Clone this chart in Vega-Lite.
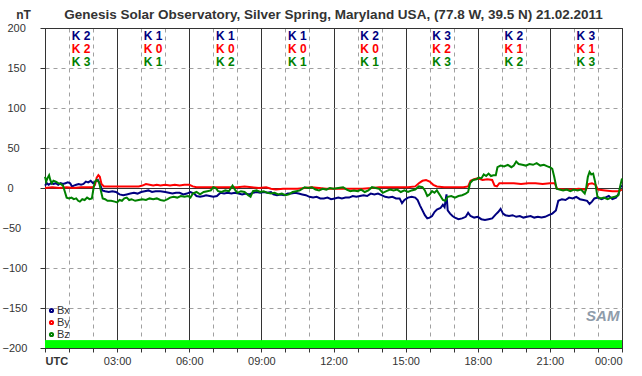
{
  "$schema": "https://vega.github.io/schema/vega-lite/v6.json",
  "width": 577,
  "height": 320,
  "autosize": {"type": "none"},
  "padding": {"left": 45, "top": 28, "right": 20, "bottom": 28},
  "background": "white",
  "title": {"text": "Genesis Solar Observatory, Silver Spring, Maryland USA, (77.8 W, 39.5 N)  21.02.2011", "fontSize": 13.5, "fontWeight": "bold", "color": "#333333", "font": "Liberation Sans", "anchor": "middle", "offset": 9, "dy": 22},
  "config": {"view": {"stroke": "#333333", "strokeWidth": 1}, "font": "Liberation Sans"},
  "datasets": {
    "mag": [
      {"h":0,"s":"Bx","v":3},{"h":0.08,"s":"Bx","v":6},{"h":0.15,"s":"Bx","v":4},{"h":0.25,"s":"Bx","v":6},{"h":0.35,"s":"Bx","v":5},{"h":0.45,"s":"Bx","v":6},{"h":0.55,"s":"Bx","v":4},{"h":0.65,"s":"Bx","v":6},{"h":0.75,"s":"Bx","v":5},{"h":0.85,"s":"Bx","v":6},{"h":0.95,"s":"Bx","v":7},{"h":1.05,"s":"Bx","v":6},{"h":1.12,"s":"Bx","v":2},{"h":1.2,"s":"Bx","v":3},{"h":1.3,"s":"Bx","v":4},{"h":1.4,"s":"Bx","v":5},{"h":1.5,"s":"Bx","v":4},{"h":1.6,"s":"Bx","v":5},{"h":1.7,"s":"Bx","v":8},{"h":1.8,"s":"Bx","v":7},{"h":1.9,"s":"Bx","v":9},{"h":2.0,"s":"Bx","v":6},{"h":2.1,"s":"Bx","v":8},{"h":2.2,"s":"Bx","v":10},{"h":2.3,"s":"Bx","v":4},{"h":2.38,"s":"Bx","v":-3},{"h":2.5,"s":"Bx","v":-4},{"h":2.65,"s":"Bx","v":-5},{"h":2.8,"s":"Bx","v":-4},{"h":2.95,"s":"Bx","v":-5},{"h":3.1,"s":"Bx","v":-8},{"h":3.25,"s":"Bx","v":-9},{"h":3.4,"s":"Bx","v":-8},{"h":3.55,"s":"Bx","v":-7},{"h":3.7,"s":"Bx","v":-6},{"h":3.85,"s":"Bx","v":-7},{"h":4.0,"s":"Bx","v":-5},{"h":4.15,"s":"Bx","v":-4},{"h":4.3,"s":"Bx","v":-3},{"h":4.45,"s":"Bx","v":-5},{"h":4.6,"s":"Bx","v":-4},{"h":4.8,"s":"Bx","v":-4},{"h":5.0,"s":"Bx","v":-5},{"h":5.15,"s":"Bx","v":-6},{"h":5.3,"s":"Bx","v":-7},{"h":5.45,"s":"Bx","v":-6},{"h":5.6,"s":"Bx","v":-6},{"h":5.75,"s":"Bx","v":-8},{"h":5.9,"s":"Bx","v":-7},{"h":6.05,"s":"Bx","v":-5},{"h":6.2,"s":"Bx","v":-7},{"h":6.3,"s":"Bx","v":-10},{"h":6.45,"s":"Bx","v":-11},{"h":6.6,"s":"Bx","v":-10},{"h":6.7,"s":"Bx","v":-9},{"h":6.85,"s":"Bx","v":-10},{"h":7.0,"s":"Bx","v":-11},{"h":7.15,"s":"Bx","v":-10},{"h":7.3,"s":"Bx","v":-6},{"h":7.45,"s":"Bx","v":-7},{"h":7.6,"s":"Bx","v":-6},{"h":7.75,"s":"Bx","v":-7},{"h":7.9,"s":"Bx","v":-6},{"h":8.05,"s":"Bx","v":-7},{"h":8.2,"s":"Bx","v":-8},{"h":8.35,"s":"Bx","v":-7},{"h":8.5,"s":"Bx","v":-8},{"h":8.65,"s":"Bx","v":-6},{"h":8.8,"s":"Bx","v":-5},{"h":8.95,"s":"Bx","v":-6},{"h":9.1,"s":"Bx","v":-5},{"h":9.25,"s":"Bx","v":-6},{"h":9.4,"s":"Bx","v":-5},{"h":9.5,"s":"Bx","v":-8},{"h":9.65,"s":"Bx","v":-9},{"h":9.8,"s":"Bx","v":-8},{"h":9.95,"s":"Bx","v":-9},{"h":10.1,"s":"Bx","v":-7},{"h":10.25,"s":"Bx","v":-7},{"h":10.4,"s":"Bx","v":-6},{"h":10.55,"s":"Bx","v":-7},{"h":10.7,"s":"Bx","v":-8},{"h":10.85,"s":"Bx","v":-9},{"h":11.0,"s":"Bx","v":-11},{"h":11.15,"s":"Bx","v":-12},{"h":11.3,"s":"Bx","v":-11},{"h":11.45,"s":"Bx","v":-13},{"h":11.6,"s":"Bx","v":-13},{"h":11.75,"s":"Bx","v":-12},{"h":11.9,"s":"Bx","v":-14},{"h":12.05,"s":"Bx","v":-13},{"h":12.2,"s":"Bx","v":-12},{"h":12.35,"s":"Bx","v":-13},{"h":12.5,"s":"Bx","v":-12},{"h":12.65,"s":"Bx","v":-12},{"h":12.8,"s":"Bx","v":-10},{"h":12.95,"s":"Bx","v":-11},{"h":13.1,"s":"Bx","v":-10},{"h":13.25,"s":"Bx","v":-9},{"h":13.4,"s":"Bx","v":-10},{"h":13.55,"s":"Bx","v":-7},{"h":13.7,"s":"Bx","v":-8},{"h":13.85,"s":"Bx","v":-7},{"h":14.0,"s":"Bx","v":-9},{"h":14.15,"s":"Bx","v":-11},{"h":14.3,"s":"Bx","v":-12},{"h":14.45,"s":"Bx","v":-11},{"h":14.6,"s":"Bx","v":-13},{"h":14.75,"s":"Bx","v":-13},{"h":14.85,"s":"Bx","v":-19},{"h":14.95,"s":"Bx","v":-15},{"h":15.1,"s":"Bx","v":-12},{"h":15.25,"s":"Bx","v":-11},{"h":15.4,"s":"Bx","v":-12},{"h":15.5,"s":"Bx","v":-15},{"h":15.6,"s":"Bx","v":-22},{"h":15.7,"s":"Bx","v":-28},{"h":15.8,"s":"Bx","v":-34},{"h":15.9,"s":"Bx","v":-38},{"h":16.0,"s":"Bx","v":-37},{"h":16.1,"s":"Bx","v":-35},{"h":16.2,"s":"Bx","v":-30},{"h":16.3,"s":"Bx","v":-27},{"h":16.45,"s":"Bx","v":-25},{"h":16.55,"s":"Bx","v":-21},{"h":16.62,"s":"Bx","v":-24},{"h":16.7,"s":"Bx","v":-8},{"h":16.75,"s":"Bx","v":-28},{"h":16.85,"s":"Bx","v":-32},{"h":16.95,"s":"Bx","v":-35},{"h":17.05,"s":"Bx","v":-37},{"h":17.2,"s":"Bx","v":-39},{"h":17.35,"s":"Bx","v":-38},{"h":17.5,"s":"Bx","v":-36},{"h":17.6,"s":"Bx","v":-31},{"h":17.7,"s":"Bx","v":-35},{"h":17.85,"s":"Bx","v":-37},{"h":18.0,"s":"Bx","v":-36},{"h":18.15,"s":"Bx","v":-39},{"h":18.3,"s":"Bx","v":-40},{"h":18.45,"s":"Bx","v":-39},{"h":18.6,"s":"Bx","v":-38},{"h":18.75,"s":"Bx","v":-33},{"h":18.85,"s":"Bx","v":-30},{"h":18.95,"s":"Bx","v":-26},{"h":19.05,"s":"Bx","v":-32},{"h":19.15,"s":"Bx","v":-34},{"h":19.3,"s":"Bx","v":-35},{"h":19.45,"s":"Bx","v":-34},{"h":19.6,"s":"Bx","v":-36},{"h":19.75,"s":"Bx","v":-35},{"h":19.9,"s":"Bx","v":-37},{"h":20.05,"s":"Bx","v":-36},{"h":20.2,"s":"Bx","v":-35},{"h":20.35,"s":"Bx","v":-37},{"h":20.5,"s":"Bx","v":-36},{"h":20.65,"s":"Bx","v":-37},{"h":20.8,"s":"Bx","v":-36},{"h":20.95,"s":"Bx","v":-34},{"h":21.1,"s":"Bx","v":-32},{"h":21.25,"s":"Bx","v":-28},{"h":21.35,"s":"Bx","v":-16},{"h":21.5,"s":"Bx","v":-14},{"h":21.65,"s":"Bx","v":-15},{"h":21.8,"s":"Bx","v":-12},{"h":21.95,"s":"Bx","v":-13},{"h":22.1,"s":"Bx","v":-11},{"h":22.25,"s":"Bx","v":-14},{"h":22.4,"s":"Bx","v":-15},{"h":22.55,"s":"Bx","v":-16},{"h":22.65,"s":"Bx","v":-20},{"h":22.75,"s":"Bx","v":-17},{"h":22.85,"s":"Bx","v":-13},{"h":23.0,"s":"Bx","v":-12},{"h":23.15,"s":"Bx","v":-14},{"h":23.3,"s":"Bx","v":-12},{"h":23.45,"s":"Bx","v":-10},{"h":23.6,"s":"Bx","v":-14},{"h":23.75,"s":"Bx","v":-12},{"h":23.85,"s":"Bx","v":-8},{"h":23.95,"s":"Bx","v":2},{"h":24.0,"s":"Bx","v":3},
      {"h":0,"s":"By","v":0},{"h":0.3,"s":"By","v":1},{"h":0.6,"s":"By","v":0},{"h":0.9,"s":"By","v":1},{"h":1.2,"s":"By","v":0},{"h":1.5,"s":"By","v":1},{"h":1.8,"s":"By","v":1},{"h":2.0,"s":"By","v":1},{"h":2.08,"s":"By","v":4},{"h":2.15,"s":"By","v":13},{"h":2.22,"s":"By","v":16},{"h":2.28,"s":"By","v":14},{"h":2.35,"s":"By","v":5},{"h":2.45,"s":"By","v":2},{"h":2.7,"s":"By","v":2},{"h":3.0,"s":"By","v":2},{"h":3.3,"s":"By","v":2},{"h":3.6,"s":"By","v":2},{"h":3.9,"s":"By","v":2},{"h":4.05,"s":"By","v":3},{"h":4.2,"s":"By","v":5},{"h":4.35,"s":"By","v":4},{"h":4.5,"s":"By","v":3},{"h":4.65,"s":"By","v":4},{"h":4.8,"s":"By","v":3},{"h":5.0,"s":"By","v":4},{"h":5.2,"s":"By","v":3},{"h":5.4,"s":"By","v":4},{"h":5.6,"s":"By","v":3},{"h":5.8,"s":"By","v":4},{"h":6.0,"s":"By","v":4},{"h":6.15,"s":"By","v":2},{"h":6.3,"s":"By","v":1},{"h":6.6,"s":"By","v":1},{"h":7.0,"s":"By","v":1},{"h":7.5,"s":"By","v":1},{"h":8.0,"s":"By","v":1},{"h":8.3,"s":"By","v":2},{"h":8.6,"s":"By","v":1},{"h":8.9,"s":"By","v":0},{"h":9.2,"s":"By","v":1},{"h":9.4,"s":"By","v":-1},{"h":9.6,"s":"By","v":-2},{"h":9.9,"s":"By","v":-1},{"h":10.2,"s":"By","v":-1},{"h":10.5,"s":"By","v":-1},{"h":10.8,"s":"By","v":0},{"h":11.1,"s":"By","v":1},{"h":11.4,"s":"By","v":0},{"h":11.7,"s":"By","v":-1},{"h":12.0,"s":"By","v":-1},{"h":12.4,"s":"By","v":-1},{"h":12.8,"s":"By","v":-1},{"h":13.2,"s":"By","v":-1},{"h":13.6,"s":"By","v":0},{"h":13.9,"s":"By","v":1},{"h":14.3,"s":"By","v":1},{"h":14.7,"s":"By","v":1},{"h":15.1,"s":"By","v":1},{"h":15.4,"s":"By","v":2},{"h":15.55,"s":"By","v":6},{"h":15.7,"s":"By","v":9},{"h":15.85,"s":"By","v":10},{"h":16.0,"s":"By","v":8},{"h":16.15,"s":"By","v":4},{"h":16.3,"s":"By","v":2},{"h":16.6,"s":"By","v":1},{"h":17.0,"s":"By","v":1},{"h":17.4,"s":"By","v":1},{"h":17.6,"s":"By","v":2},{"h":17.7,"s":"By","v":9},{"h":17.85,"s":"By","v":11},{"h":18.0,"s":"By","v":12},{"h":18.2,"s":"By","v":10},{"h":18.4,"s":"By","v":11},{"h":18.6,"s":"By","v":10},{"h":18.7,"s":"By","v":3},{"h":18.8,"s":"By","v":2},{"h":18.9,"s":"By","v":6},{"h":19.2,"s":"By","v":6},{"h":19.5,"s":"By","v":6},{"h":19.8,"s":"By","v":5},{"h":20.1,"s":"By","v":6},{"h":20.4,"s":"By","v":6},{"h":20.7,"s":"By","v":5},{"h":21.0,"s":"By","v":6},{"h":21.2,"s":"By","v":6},{"h":21.3,"s":"By","v":-1},{"h":21.6,"s":"By","v":-2},{"h":21.9,"s":"By","v":-2},{"h":22.2,"s":"By","v":-1},{"h":22.5,"s":"By","v":-2},{"h":22.6,"s":"By","v":5},{"h":22.75,"s":"By","v":6},{"h":22.9,"s":"By","v":4},{"h":23.0,"s":"By","v":-2},{"h":23.3,"s":"By","v":-3},{"h":23.6,"s":"By","v":-4},{"h":23.85,"s":"By","v":-4},{"h":24.0,"s":"By","v":-2},
      {"h":0,"s":"Bz","v":14},{"h":0.05,"s":"Bz","v":8},{"h":0.1,"s":"Bz","v":12},{"h":0.17,"s":"Bz","v":16},{"h":0.22,"s":"Bz","v":10},{"h":0.28,"s":"Bz","v":6},{"h":0.35,"s":"Bz","v":9},{"h":0.45,"s":"Bz","v":8},{"h":0.55,"s":"Bz","v":6},{"h":0.65,"s":"Bz","v":5},{"h":0.75,"s":"Bz","v":3},{"h":0.82,"s":"Bz","v":-4},{"h":0.9,"s":"Bz","v":-12},{"h":1.0,"s":"Bz","v":-13},{"h":1.1,"s":"Bz","v":-12},{"h":1.2,"s":"Bz","v":-14},{"h":1.3,"s":"Bz","v":-13},{"h":1.38,"s":"Bz","v":-16},{"h":1.45,"s":"Bz","v":-17},{"h":1.55,"s":"Bz","v":-14},{"h":1.65,"s":"Bz","v":-15},{"h":1.75,"s":"Bz","v":-12},{"h":1.85,"s":"Bz","v":-14},{"h":1.95,"s":"Bz","v":-13},{"h":2.02,"s":"Bz","v":0},{"h":2.08,"s":"Bz","v":8},{"h":2.15,"s":"Bz","v":10},{"h":2.25,"s":"Bz","v":7},{"h":2.32,"s":"Bz","v":-3},{"h":2.4,"s":"Bz","v":-13},{"h":2.5,"s":"Bz","v":-14},{"h":2.6,"s":"Bz","v":-16},{"h":2.75,"s":"Bz","v":-16},{"h":2.9,"s":"Bz","v":-17},{"h":3.0,"s":"Bz","v":-18},{"h":3.1,"s":"Bz","v":-15},{"h":3.2,"s":"Bz","v":-16},{"h":3.3,"s":"Bz","v":-13},{"h":3.4,"s":"Bz","v":-12},{"h":3.5,"s":"Bz","v":-15},{"h":3.6,"s":"Bz","v":-14},{"h":3.75,"s":"Bz","v":-16},{"h":3.9,"s":"Bz","v":-15},{"h":4.05,"s":"Bz","v":-14},{"h":4.2,"s":"Bz","v":-15},{"h":4.35,"s":"Bz","v":-13},{"h":4.5,"s":"Bz","v":-14},{"h":4.65,"s":"Bz","v":-13},{"h":4.8,"s":"Bz","v":-15},{"h":4.95,"s":"Bz","v":-16},{"h":5.1,"s":"Bz","v":-14},{"h":5.2,"s":"Bz","v":-12},{"h":5.35,"s":"Bz","v":-11},{"h":5.5,"s":"Bz","v":-12},{"h":5.65,"s":"Bz","v":-10},{"h":5.8,"s":"Bz","v":-11},{"h":5.95,"s":"Bz","v":-10},{"h":6.05,"s":"Bz","v":-12},{"h":6.15,"s":"Bz","v":-7},{"h":6.3,"s":"Bz","v":-5},{"h":6.45,"s":"Bz","v":-8},{"h":6.6,"s":"Bz","v":-5},{"h":6.75,"s":"Bz","v":-4},{"h":6.9,"s":"Bz","v":-3},{"h":7.0,"s":"Bz","v":1},{"h":7.1,"s":"Bz","v":0},{"h":7.2,"s":"Bz","v":-4},{"h":7.35,"s":"Bz","v":-5},{"h":7.5,"s":"Bz","v":-3},{"h":7.65,"s":"Bz","v":-4},{"h":7.8,"s":"Bz","v":3},{"h":7.9,"s":"Bz","v":-2},{"h":8.0,"s":"Bz","v":-6},{"h":8.15,"s":"Bz","v":-4},{"h":8.3,"s":"Bz","v":-5},{"h":8.45,"s":"Bz","v":-9},{"h":8.55,"s":"Bz","v":-11},{"h":8.65,"s":"Bz","v":-4},{"h":8.8,"s":"Bz","v":-3},{"h":8.95,"s":"Bz","v":-5},{"h":9.1,"s":"Bz","v":-4},{"h":9.25,"s":"Bz","v":-6},{"h":9.4,"s":"Bz","v":-7},{"h":9.55,"s":"Bz","v":-6},{"h":9.7,"s":"Bz","v":-8},{"h":9.85,"s":"Bz","v":-7},{"h":10.0,"s":"Bz","v":-9},{"h":10.15,"s":"Bz","v":-8},{"h":10.3,"s":"Bz","v":-5},{"h":10.45,"s":"Bz","v":-4},{"h":10.6,"s":"Bz","v":-3},{"h":10.8,"s":"Bz","v":1},{"h":10.95,"s":"Bz","v":0},{"h":11.1,"s":"Bz","v":1},{"h":11.25,"s":"Bz","v":-2},{"h":11.4,"s":"Bz","v":-3},{"h":11.55,"s":"Bz","v":-1},{"h":11.7,"s":"Bz","v":-2},{"h":11.85,"s":"Bz","v":0},{"h":12.0,"s":"Bz","v":-1},{"h":12.2,"s":"Bz","v":0},{"h":12.4,"s":"Bz","v":1},{"h":12.55,"s":"Bz","v":-2},{"h":12.7,"s":"Bz","v":-4},{"h":12.85,"s":"Bz","v":-3},{"h":13.0,"s":"Bz","v":-4},{"h":13.15,"s":"Bz","v":-2},{"h":13.3,"s":"Bz","v":-5},{"h":13.45,"s":"Bz","v":-3},{"h":13.6,"s":"Bz","v":1},{"h":13.75,"s":"Bz","v":0},{"h":13.9,"s":"Bz","v":-1},{"h":14.05,"s":"Bz","v":-6},{"h":14.2,"s":"Bz","v":-4},{"h":14.35,"s":"Bz","v":-2},{"h":14.5,"s":"Bz","v":-3},{"h":14.65,"s":"Bz","v":-2},{"h":14.8,"s":"Bz","v":-5},{"h":14.95,"s":"Bz","v":-3},{"h":15.1,"s":"Bz","v":-5},{"h":15.25,"s":"Bz","v":-3},{"h":15.4,"s":"Bz","v":-2},{"h":15.55,"s":"Bz","v":2},{"h":15.7,"s":"Bz","v":1},{"h":15.8,"s":"Bz","v":-3},{"h":15.9,"s":"Bz","v":-10},{"h":16.0,"s":"Bz","v":-8},{"h":16.1,"s":"Bz","v":-4},{"h":16.2,"s":"Bz","v":-6},{"h":16.3,"s":"Bz","v":-3},{"h":16.45,"s":"Bz","v":-10},{"h":16.55,"s":"Bz","v":-15},{"h":16.65,"s":"Bz","v":-16},{"h":16.75,"s":"Bz","v":-11},{"h":16.9,"s":"Bz","v":-10},{"h":17.05,"s":"Bz","v":-12},{"h":17.2,"s":"Bz","v":-10},{"h":17.35,"s":"Bz","v":-9},{"h":17.5,"s":"Bz","v":-7},{"h":17.6,"s":"Bz","v":-5},{"h":17.68,"s":"Bz","v":6},{"h":17.8,"s":"Bz","v":10},{"h":17.95,"s":"Bz","v":11},{"h":18.05,"s":"Bz","v":13},{"h":18.15,"s":"Bz","v":12},{"h":18.25,"s":"Bz","v":17},{"h":18.35,"s":"Bz","v":15},{"h":18.45,"s":"Bz","v":18},{"h":18.55,"s":"Bz","v":15},{"h":18.65,"s":"Bz","v":16},{"h":18.75,"s":"Bz","v":16},{"h":18.82,"s":"Bz","v":26},{"h":18.95,"s":"Bz","v":28},{"h":19.1,"s":"Bz","v":27},{"h":19.25,"s":"Bz","v":29},{"h":19.4,"s":"Bz","v":26},{"h":19.5,"s":"Bz","v":28},{"h":19.6,"s":"Bz","v":33},{"h":19.7,"s":"Bz","v":30},{"h":19.85,"s":"Bz","v":29},{"h":20.0,"s":"Bz","v":28},{"h":20.15,"s":"Bz","v":30},{"h":20.3,"s":"Bz","v":29},{"h":20.45,"s":"Bz","v":31},{"h":20.6,"s":"Bz","v":28},{"h":20.75,"s":"Bz","v":29},{"h":20.9,"s":"Bz","v":27},{"h":21.0,"s":"Bz","v":26},{"h":21.1,"s":"Bz","v":24},{"h":21.18,"s":"Bz","v":14},{"h":21.28,"s":"Bz","v":-1},{"h":21.4,"s":"Bz","v":-2},{"h":21.55,"s":"Bz","v":-3},{"h":21.7,"s":"Bz","v":-2},{"h":21.85,"s":"Bz","v":-4},{"h":22.0,"s":"Bz","v":-2},{"h":22.15,"s":"Bz","v":-3},{"h":22.3,"s":"Bz","v":-2},{"h":22.45,"s":"Bz","v":-7},{"h":22.5,"s":"Bz","v":-2},{"h":22.58,"s":"Bz","v":14},{"h":22.65,"s":"Bz","v":20},{"h":22.72,"s":"Bz","v":17},{"h":22.8,"s":"Bz","v":18},{"h":22.88,"s":"Bz","v":8},{"h":22.98,"s":"Bz","v":-11},{"h":23.1,"s":"Bz","v":-13},{"h":23.25,"s":"Bz","v":-12},{"h":23.4,"s":"Bz","v":-14},{"h":23.55,"s":"Bz","v":-12},{"h":23.7,"s":"Bz","v":-11},{"h":23.85,"s":"Bz","v":-9},{"h":23.93,"s":"Bz","v":3},{"h":24.0,"s":"Bz","v":12}
    ],
    "kidx": [
      {"h":1.5,"x":"K 2","y":"K 2","z":"K 3"},
      {"h":4.5,"x":"K 1","y":"K 0","z":"K 1"},
      {"h":7.5,"x":"K 1","y":"K 0","z":"K 2"},
      {"h":10.5,"x":"K 1","y":"K 0","z":"K 1"},
      {"h":13.5,"x":"K 2","y":"K 0","z":"K 1"},
      {"h":16.5,"x":"K 3","y":"K 2","z":"K 3"},
      {"h":19.5,"x":"K 2","y":"K 1","z":"K 2"},
      {"h":22.5,"x":"K 3","y":"K 1","z":"K 3"}
    ],
    "logo": [{"h": 23.2, "v": -160, "t": "SAM"}]
  },
  "layer": [
    {
      "data": {"name": "mag"},
      "mark": {"type": "line", "strokeWidth": 2},
      "encoding": {
        "x": {"field": "h", "type": "quantitative",
          "scale": {"domain": [0, 24], "nice": false, "zero": false},
          "axis": {"values": [0,1,2,3,4,5,6,7,8,9,10,11,12,13,14,15,16,17,18,19,20,21,22,23,24], "title": null, "labelExpr": "datum.value == 0 ? 'UTC' : (datum.value % 3 == 0 ? (datum.value == 24 ? '00:00' : (datum.value < 10 ? '0' : '') + datum.value + ':00') : '')", "labelAlign": {"condition": [{"test": "datum.value == 0", "value": "left"}, {"test": "datum.value == 24", "value": "right"}], "value": "center"}, "labelFontWeight": {"condition": {"test": "datum.value == 0", "value": "bold"}, "value": "normal"}, "labelOverlap": false, "labelFlush": false, "labelFontSize": 11, "labelColor": "#333333", "labelPadding": 3, "tickSize": 4, "tickColor": "#333333", "domainColor": "#333333", "grid": true, "gridColor": {"condition": {"test": "datum.value % 3 == 0", "value": "#333333"}, "value": "#a0a0a0"}, "gridDash": {"condition": {"test": "datum.value % 3 == 0", "value": []}, "value": [4, 4]}, "gridWidth": 1}
        },
        "y": {"field": "v", "type": "quantitative",
          "scale": {"domain": [-200, 200], "nice": false, "zero": false},
          "axis": {"values": [-200,-150,-100,-50,0,50,100,150,200], "title": "nT", "titleAngle": 0, "titleX": -22, "titleY": -14, "titleAlign": "center", "titleBaseline": "middle", "titleFontSize": 12, "titleFontWeight": "bold", "titleColor": "#333333", "labelAlign": "left", "labelBaseline": "middle", "labelOverlap": false, "labelPadding": {"condition": {"test": "datum.value < 0", "value": 38}, "value": 33}, "labelFontSize": 11, "labelColor": "#333333", "tickSize": 5, "tickColor": "#333333", "domainColor": "#333333", "grid": true, "gridColor": {"condition": {"test": "datum.value == 0 || datum.value == 200 || datum.value == -200", "value": "#333333"}, "value": "#a0a0a0"}, "gridDash": {"condition": {"test": "datum.value == 0 || datum.value == 200 || datum.value == -200", "value": []}, "value": [4, 4]}}
        },
        "color": {"field": "s", "type": "nominal",
          "scale": {"domain": ["Bx", "By", "Bz"], "range": ["#000080", "#ff0000", "#008000"]},
          "legend": {"title": null, "orient": "none", "legendX": 1, "legendY": 277, "symbolType": "circle", "symbolSize": 10, "symbolStrokeWidth": 2, "labelFontSize": 11, "labelColor": "#333333", "labelOffset": 0, "rowPadding": -1, "padding": 0}
        }
      }
    },
    {
      "data": {"name": "kidx"},
      "mark": {"type": "rect", "color": "#00ff00"},
      "encoding": {
        "x": {"datum": 0, "type": "quantitative", "axis": {"values": [0,1,2,3,4,5,6,7,8,9,10,11,12,13,14,15,16,17,18,19,20,21,22,23,24], "title": null, "labelExpr": "datum.value == 0 ? 'UTC' : (datum.value % 3 == 0 ? (datum.value == 24 ? '00:00' : (datum.value < 10 ? '0' : '') + datum.value + ':00') : '')", "labelAlign": {"condition": [{"test": "datum.value == 0", "value": "left"}, {"test": "datum.value == 24", "value": "right"}], "value": "center"}, "labelFontWeight": {"condition": {"test": "datum.value == 0", "value": "bold"}, "value": "normal"}, "labelOverlap": false, "labelFlush": false, "labelFontSize": 11, "labelColor": "#333333", "labelPadding": 3, "tickSize": 4, "tickColor": "#333333", "domainColor": "#333333", "grid": true, "gridColor": {"condition": {"test": "datum.value % 3 == 0", "value": "#333333"}, "value": "#a0a0a0"}, "gridDash": {"condition": {"test": "datum.value % 3 == 0", "value": []}, "value": [4, 4]}, "gridWidth": 1}},
        "x2": {"datum": 24},
        "y": {"datum": -200, "type": "quantitative", "axis": {"values": [-200,-150,-100,-50,0,50,100,150,200], "title": "nT", "titleAngle": 0, "titleX": -22, "titleY": -14, "titleAlign": "center", "titleBaseline": "middle", "titleFontSize": 12, "titleFontWeight": "bold", "titleColor": "#333333", "labelAlign": "left", "labelBaseline": "middle", "labelOverlap": false, "labelPadding": {"condition": {"test": "datum.value < 0", "value": 38}, "value": 33}, "labelFontSize": 11, "labelColor": "#333333", "tickSize": 5, "tickColor": "#333333", "domainColor": "#333333", "grid": true, "gridColor": {"condition": {"test": "datum.value == 0 || datum.value == 200 || datum.value == -200", "value": "#333333"}, "value": "#a0a0a0"}, "gridDash": {"condition": {"test": "datum.value == 0 || datum.value == 200 || datum.value == -200", "value": []}, "value": [4, 4]}}},
        "y2": {"datum": -191}
      }
    },
    {
      "data": {"name": "kidx"},
      "mark": {"type": "text", "fontSize": 12, "fontWeight": "bold", "color": "#000080", "baseline": "middle"},
      "encoding": {
        "x": {"field": "h", "type": "quantitative", "axis": {"values": [0,1,2,3,4,5,6,7,8,9,10,11,12,13,14,15,16,17,18,19,20,21,22,23,24], "title": null, "labelExpr": "datum.value == 0 ? 'UTC' : (datum.value % 3 == 0 ? (datum.value == 24 ? '00:00' : (datum.value < 10 ? '0' : '') + datum.value + ':00') : '')", "labelAlign": {"condition": [{"test": "datum.value == 0", "value": "left"}, {"test": "datum.value == 24", "value": "right"}], "value": "center"}, "labelFontWeight": {"condition": {"test": "datum.value == 0", "value": "bold"}, "value": "normal"}, "labelOverlap": false, "labelFlush": false, "labelFontSize": 11, "labelColor": "#333333", "labelPadding": 3, "tickSize": 4, "tickColor": "#333333", "domainColor": "#333333", "grid": true, "gridColor": {"condition": {"test": "datum.value % 3 == 0", "value": "#333333"}, "value": "#a0a0a0"}, "gridDash": {"condition": {"test": "datum.value % 3 == 0", "value": []}, "value": [4, 4]}, "gridWidth": 1}},
        "y": {"datum": 190, "type": "quantitative", "axis": {"values": [-200,-150,-100,-50,0,50,100,150,200], "title": "nT", "titleAngle": 0, "titleX": -22, "titleY": -14, "titleAlign": "center", "titleBaseline": "middle", "titleFontSize": 12, "titleFontWeight": "bold", "titleColor": "#333333", "labelAlign": "left", "labelBaseline": "middle", "labelOverlap": false, "labelPadding": {"condition": {"test": "datum.value < 0", "value": 38}, "value": 33}, "labelFontSize": 11, "labelColor": "#333333", "tickSize": 5, "tickColor": "#333333", "domainColor": "#333333", "grid": true, "gridColor": {"condition": {"test": "datum.value == 0 || datum.value == 200 || datum.value == -200", "value": "#333333"}, "value": "#a0a0a0"}, "gridDash": {"condition": {"test": "datum.value == 0 || datum.value == 200 || datum.value == -200", "value": []}, "value": [4, 4]}}},
        "text": {"field": "x"}
      }
    },
    {
      "data": {"name": "kidx"},
      "mark": {"type": "text", "fontSize": 12, "fontWeight": "bold", "color": "#ff0000", "baseline": "middle"},
      "encoding": {
        "x": {"field": "h", "type": "quantitative", "axis": {"values": [0,1,2,3,4,5,6,7,8,9,10,11,12,13,14,15,16,17,18,19,20,21,22,23,24], "title": null, "labelExpr": "datum.value == 0 ? 'UTC' : (datum.value % 3 == 0 ? (datum.value == 24 ? '00:00' : (datum.value < 10 ? '0' : '') + datum.value + ':00') : '')", "labelAlign": {"condition": [{"test": "datum.value == 0", "value": "left"}, {"test": "datum.value == 24", "value": "right"}], "value": "center"}, "labelFontWeight": {"condition": {"test": "datum.value == 0", "value": "bold"}, "value": "normal"}, "labelOverlap": false, "labelFlush": false, "labelFontSize": 11, "labelColor": "#333333", "labelPadding": 3, "tickSize": 4, "tickColor": "#333333", "domainColor": "#333333", "grid": true, "gridColor": {"condition": {"test": "datum.value % 3 == 0", "value": "#333333"}, "value": "#a0a0a0"}, "gridDash": {"condition": {"test": "datum.value % 3 == 0", "value": []}, "value": [4, 4]}, "gridWidth": 1}},
        "y": {"datum": 174, "type": "quantitative", "axis": {"values": [-200,-150,-100,-50,0,50,100,150,200], "title": "nT", "titleAngle": 0, "titleX": -22, "titleY": -14, "titleAlign": "center", "titleBaseline": "middle", "titleFontSize": 12, "titleFontWeight": "bold", "titleColor": "#333333", "labelAlign": "left", "labelBaseline": "middle", "labelOverlap": false, "labelPadding": {"condition": {"test": "datum.value < 0", "value": 38}, "value": 33}, "labelFontSize": 11, "labelColor": "#333333", "tickSize": 5, "tickColor": "#333333", "domainColor": "#333333", "grid": true, "gridColor": {"condition": {"test": "datum.value == 0 || datum.value == 200 || datum.value == -200", "value": "#333333"}, "value": "#a0a0a0"}, "gridDash": {"condition": {"test": "datum.value == 0 || datum.value == 200 || datum.value == -200", "value": []}, "value": [4, 4]}}},
        "text": {"field": "y"}
      }
    },
    {
      "data": {"name": "kidx"},
      "mark": {"type": "text", "fontSize": 12, "fontWeight": "bold", "color": "#008000", "baseline": "middle"},
      "encoding": {
        "x": {"field": "h", "type": "quantitative", "axis": {"values": [0,1,2,3,4,5,6,7,8,9,10,11,12,13,14,15,16,17,18,19,20,21,22,23,24], "title": null, "labelExpr": "datum.value == 0 ? 'UTC' : (datum.value % 3 == 0 ? (datum.value == 24 ? '00:00' : (datum.value < 10 ? '0' : '') + datum.value + ':00') : '')", "labelAlign": {"condition": [{"test": "datum.value == 0", "value": "left"}, {"test": "datum.value == 24", "value": "right"}], "value": "center"}, "labelFontWeight": {"condition": {"test": "datum.value == 0", "value": "bold"}, "value": "normal"}, "labelOverlap": false, "labelFlush": false, "labelFontSize": 11, "labelColor": "#333333", "labelPadding": 3, "tickSize": 4, "tickColor": "#333333", "domainColor": "#333333", "grid": true, "gridColor": {"condition": {"test": "datum.value % 3 == 0", "value": "#333333"}, "value": "#a0a0a0"}, "gridDash": {"condition": {"test": "datum.value % 3 == 0", "value": []}, "value": [4, 4]}, "gridWidth": 1}},
        "y": {"datum": 158, "type": "quantitative", "axis": {"values": [-200,-150,-100,-50,0,50,100,150,200], "title": "nT", "titleAngle": 0, "titleX": -22, "titleY": -14, "titleAlign": "center", "titleBaseline": "middle", "titleFontSize": 12, "titleFontWeight": "bold", "titleColor": "#333333", "labelAlign": "left", "labelBaseline": "middle", "labelOverlap": false, "labelPadding": {"condition": {"test": "datum.value < 0", "value": 38}, "value": 33}, "labelFontSize": 11, "labelColor": "#333333", "tickSize": 5, "tickColor": "#333333", "domainColor": "#333333", "grid": true, "gridColor": {"condition": {"test": "datum.value == 0 || datum.value == 200 || datum.value == -200", "value": "#333333"}, "value": "#a0a0a0"}, "gridDash": {"condition": {"test": "datum.value == 0 || datum.value == 200 || datum.value == -200", "value": []}, "value": [4, 4]}}},
        "text": {"field": "z"}
      }
    },
    {
      "data": {"name": "logo"},
      "mark": {"type": "text", "fontSize": 15, "fontStyle": "italic", "fontWeight": "bold", "color": "#8f9caa", "baseline": "middle", "align": "center"},
      "encoding": {
        "x": {"field": "h", "type": "quantitative", "axis": {"values": [0,1,2,3,4,5,6,7,8,9,10,11,12,13,14,15,16,17,18,19,20,21,22,23,24], "title": null, "labelExpr": "datum.value == 0 ? 'UTC' : (datum.value % 3 == 0 ? (datum.value == 24 ? '00:00' : (datum.value < 10 ? '0' : '') + datum.value + ':00') : '')", "labelAlign": {"condition": [{"test": "datum.value == 0", "value": "left"}, {"test": "datum.value == 24", "value": "right"}], "value": "center"}, "labelFontWeight": {"condition": {"test": "datum.value == 0", "value": "bold"}, "value": "normal"}, "labelOverlap": false, "labelFlush": false, "labelFontSize": 11, "labelColor": "#333333", "labelPadding": 3, "tickSize": 4, "tickColor": "#333333", "domainColor": "#333333", "grid": true, "gridColor": {"condition": {"test": "datum.value % 3 == 0", "value": "#333333"}, "value": "#a0a0a0"}, "gridDash": {"condition": {"test": "datum.value % 3 == 0", "value": []}, "value": [4, 4]}, "gridWidth": 1}},
        "y": {"field": "v", "type": "quantitative", "axis": {"values": [-200,-150,-100,-50,0,50,100,150,200], "title": "nT", "titleAngle": 0, "titleX": -22, "titleY": -14, "titleAlign": "center", "titleBaseline": "middle", "titleFontSize": 12, "titleFontWeight": "bold", "titleColor": "#333333", "labelAlign": "left", "labelBaseline": "middle", "labelOverlap": false, "labelPadding": {"condition": {"test": "datum.value < 0", "value": 38}, "value": 33}, "labelFontSize": 11, "labelColor": "#333333", "tickSize": 5, "tickColor": "#333333", "domainColor": "#333333", "grid": true, "gridColor": {"condition": {"test": "datum.value == 0 || datum.value == 200 || datum.value == -200", "value": "#333333"}, "value": "#a0a0a0"}, "gridDash": {"condition": {"test": "datum.value == 0 || datum.value == 200 || datum.value == -200", "value": []}, "value": [4, 4]}}},
        "text": {"field": "t"}
      }
    }
  ]
}
